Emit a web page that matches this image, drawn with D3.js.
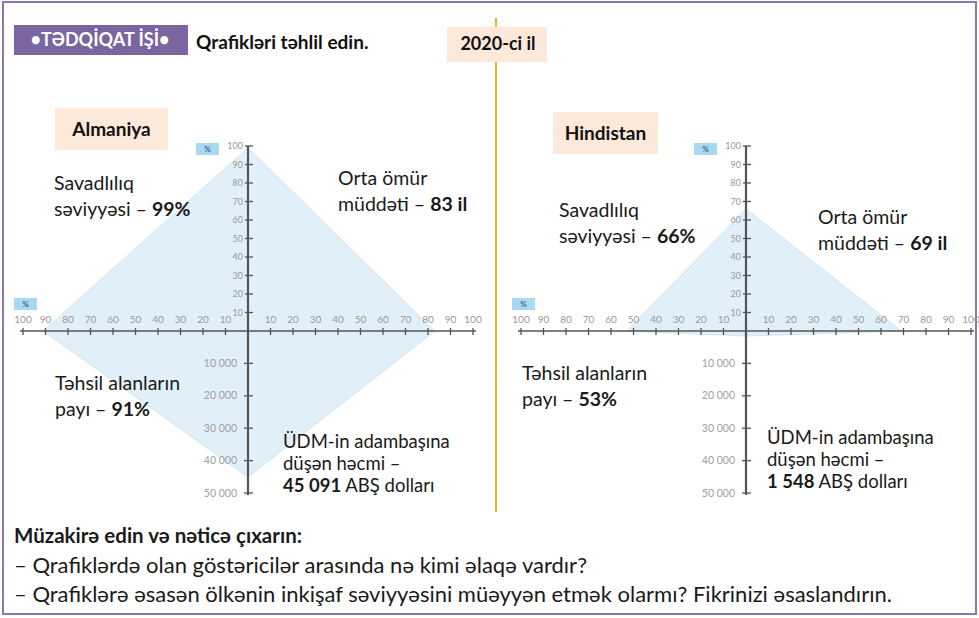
<!DOCTYPE html>
<html>
<head>
<meta charset="utf-8">
<script src="https://cdn.jsdelivr.net/npm/d3@7"></script>
<style>
  html, body { margin: 0; padding: 0; background: #fff; }
  svg { display: block; font-family: Lato, "Open Sans", sans-serif; }
</style>
</head>
<body>
<svg id="chart" width="979" height="618"></svg>
<script>
// Indicators for 2020
const countries = ["Almaniya", "Hindistan"];
const literacy = [99, 66];          // Savadlılıq səviyyəsi, %
const lifeExpectancy = [83, 69];    // Orta ömür müddəti, il
const educationShare = [91, 53];    // Təhsil alanların payı, %
const gdpPerCapita = [45091, 1548]; // ÜDM adambaşına, ABŞ dolları
const gdpLabels = ["45 091", "1 548"];

const pctTicks = [10, 20, 30, 40, 50, 60, 70, 80, 90, 100];
const gdpTicks = [10000, 20000, 30000, 40000, 50000];
const gdpTickLabels = ["10 000", "20 000", "30 000", "40 000", "50 000"];

const svg = d3.select("#chart");

// outer frame
svg.append("rect").attr("x", 3).attr("y", 2).attr("width", 973).attr("height", 612)
  .attr("fill", "none").attr("stroke", "#8c78ad").attr("stroke-width", 2);

// header
svg.append("rect").attr("x", 14).attr("y", 25).attr("width", 174).attr("height", 30).attr("fill", "#7a65a0");
svg.append("text").attr("x", 100).attr("y", 40).attr("dy", "0.35em").attr("text-anchor", "middle")
  .attr("fill", "#fff").attr("font-weight", "bold").attr("font-size", 18).text("•TƏDQİQAT İŞİ•");
svg.append("text").attr("x", 196).attr("y", 42).attr("dy", "0.35em").attr("fill", "#111")
  .attr("font-weight", "bold").attr("font-size", 19).text("Qrafikləri təhlil edin.");

// divider
svg.append("line").attr("x1", 496).attr("x2", 496).attr("y1", 18).attr("y2", 512)
  .attr("stroke", "#f2b526").attr("stroke-width", 2);
svg.append("rect").attr("x", 447).attr("y", 27).attr("width", 100).attr("height", 35).attr("fill", "#fde9d9");
svg.append("text").attr("x", 498).attr("y", 44).attr("dy", "0.35em").attr("text-anchor", "middle").attr("fill", "#111")
  .attr("font-weight", "bold").attr("font-size", 18).text("2020-ci il");

// panel layout
const panels = [
  { ox: 248, oy: 331, title: [55, 108, 113, 42],
    lit: [54, 183], life: [338, 178], edu: [55, 383], gdp: [283, 442] },
  { ox: 746, oy: 331, title: [553, 112, 105, 42],
    lit: [559, 210], life: [818, 217], edu: [522, 373], gdp: [767, 438] }
];

const xR = d3.scaleLinear().domain([0, 100]).range([0, 225]);
const yU = d3.scaleLinear().domain([0, 100]).range([0, -185]);
const yD = d3.scaleLinear().domain([0, 50000]).range([0, 162]);

function lines(g, x, y, rows, lh, size) {
  rows.forEach((parts, i) => {
    const t = g.append("text").attr("x", x).attr("y", y + i * lh).attr("dy", "0.35em")
      .attr("font-size", size).attr("fill", "#1a1a1a");
    parts.forEach(p => t.append("tspan").attr("font-weight", p[1] ? "bold" : "normal").text(p[0]));
  });
}

const tickFont = "Lato, sans-serif";

panels.forEach((p, i) => {
  const g = svg.append("g");
  const ax = g.append("g").attr("transform", `translate(${p.ox},${p.oy})`);

  // indicator polygon
  const pts = [
    [0, yU(literacy[i])],
    [xR(lifeExpectancy[i]), 0],
    [0, yD(gdpPerCapita[i])],
    [-xR(educationShare[i]), 0]
  ];
  ax.append("path").attr("d", d3.line()(pts) + "Z")
    .attr("fill", "#e1eff8").attr("stroke", "#cfe5f3").attr("stroke-width", 1);

  // horizontal axis
  ax.append("line").attr("x1", -xR(100) - 3).attr("x2", xR(100) + 3).attr("y1", 0).attr("y2", 0)
    .attr("stroke", "#555").attr("stroke-width", 1.6);
  [-1, 1].forEach(s => {
    pctTicks.forEach(v => {
      ax.append("line").attr("x1", s * xR(v)).attr("x2", s * xR(v)).attr("y1", -3).attr("y2", 4)
        .attr("stroke", "#555").attr("stroke-width", 1.3);
      ax.append("text").attr("x", s * xR(v)).attr("y", -12).attr("dy", "0.35em").attr("text-anchor", "middle")
        .attr("font-size", 10).attr("fill", "#999").attr("font-family", tickFont)
        .text(v);
    });
  });

  // vertical axis
  ax.append("line").attr("x1", 0).attr("x2", 0).attr("y1", yU(100)).attr("y2", yD(50000) + 2)
    .attr("stroke", "#555").attr("stroke-width", 2.2);
  pctTicks.forEach(v => {
    ax.append("line").attr("x1", -3).attr("x2", 5).attr("y1", yU(v)).attr("y2", yU(v))
      .attr("stroke", "#555").attr("stroke-width", 1.3);
    ax.append("text").attr("x", -5).attr("y", yU(v)).attr("dy", "0.35em").attr("text-anchor", "end")
      .attr("font-size", 9).attr("fill", "#999").attr("font-family", tickFont)
      .text(v);
  });
  gdpTicks.forEach((v, k) => {
    ax.append("line").attr("x1", -4).attr("x2", 5).attr("y1", yD(v)).attr("y2", yD(v))
      .attr("stroke", "#555").attr("stroke-width", 1.3);
    ax.append("text").attr("x", -11).attr("y", yD(v)).attr("dy", "0.35em").attr("text-anchor", "end")
      .attr("font-size", 10.5).attr("fill", "#a0a0a0").attr("font-family", tickFont)
      .text(gdpTickLabels[k]);
  });

  // % badges
  [[-52, yU(100) - 3], [-xR(100) - 9, -33]].forEach(b => {
    ax.append("rect").attr("x", b[0]).attr("y", b[1]).attr("width", 23).attr("height", 12).attr("fill", "#a9d9f1");
    ax.append("text").attr("x", b[0] + 11.5).attr("y", b[1] + 9).attr("text-anchor", "middle")
      .attr("font-size", 8).attr("font-weight", "bold").attr("fill", "#3c6d93").text("%");
  });

  // title
  g.append("rect").attr("x", p.title[0]).attr("y", p.title[1]).attr("width", p.title[2]).attr("height", p.title[3])
    .attr("fill", "#fde9d9");
  g.append("text").attr("x", p.title[0] + p.title[2] / 2).attr("y", p.title[1] + p.title[3] / 2)
    .attr("dy", "0.35em").attr("text-anchor", "middle").attr("font-weight", "bold").attr("font-size", 19)
    .attr("fill", "#111").text(countries[i]);

  // indicator labels
  lines(g, p.lit[0], p.lit[1], [[["Savadlılıq", 0]], [["səviyyəsi – ", 0], [literacy[i] + "%", 1]]], 26, 19.5);
  lines(g, p.life[0], p.life[1], [[["Orta ömür", 0]], [["müddəti – ", 0], [lifeExpectancy[i] + " il", 1]]], 26, 19.5);
  lines(g, p.edu[0], p.edu[1], [[["Təhsil alanların", 0]], [["payı – ", 0], [educationShare[i] + "%", 1]]], 26, 19.5);
  lines(g, p.gdp[0], p.gdp[1], [[["ÜDM-in adambaşına", 0]], [["düşən həcmi –", 0]],
    [[gdpLabels[i], 1], [" ABŞ dolları", 0]]], 22, 18.5);
});

// discussion questions
const q = svg.append("g").attr("fill", "#1a1a1a");
q.append("text").attr("x", 14).attr("y", 536).attr("dy", "0.35em").attr("font-weight", "bold").attr("font-size", 20.5)
  .text("Müzakirə edin və nəticə çıxarın:");
q.append("text").attr("x", 14).attr("y", 565).attr("dy", "0.35em").attr("font-size", 22)
  .text("– Qrafiklərdə olan göstəricilər arasında nə kimi əlaqə vardır?");
q.append("text").attr("x", 14).attr("y", 594).attr("dy", "0.35em").attr("font-size", 22)
  .text("– Qrafiklərə əsasən ölkənin inkişaf səviyyəsini müəyyən etmək olarmı? Fikrinizi əsaslandırın.");
</script>
</body>
</html>
